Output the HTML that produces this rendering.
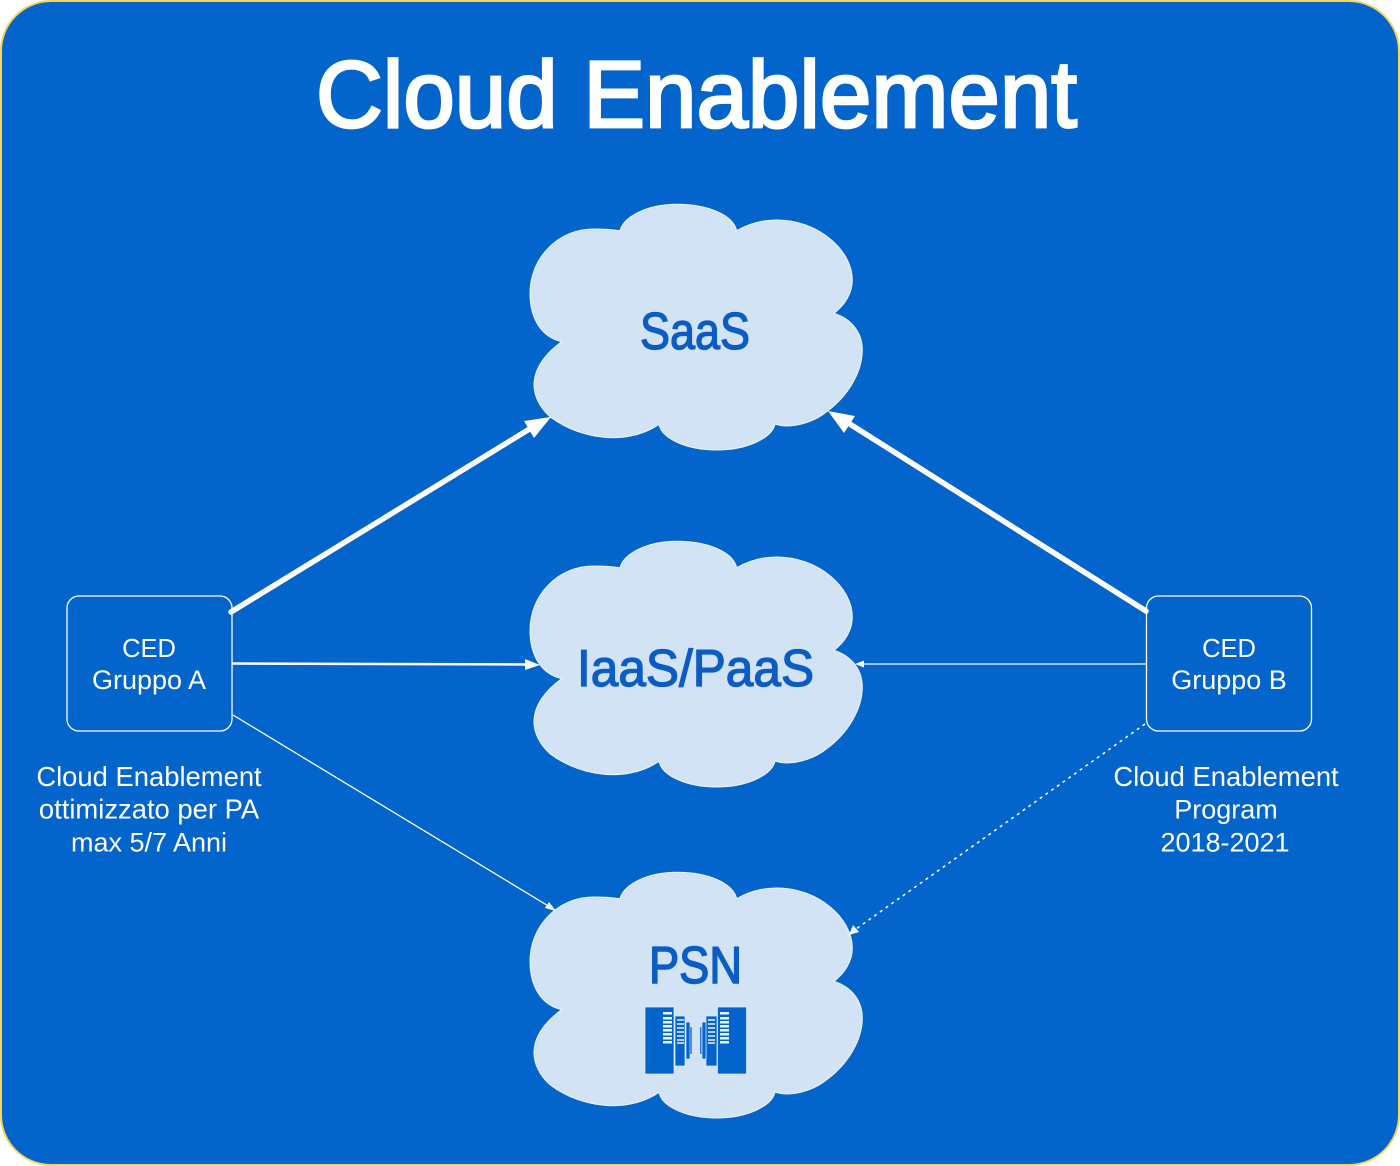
<!DOCTYPE html>
<html><head><meta charset="utf-8"><style>
html,body{margin:0;padding:0;background:#fff}
svg{display:block}
text{font-family:"Liberation Sans",sans-serif}
</style></head><body>
<svg width="1400" height="1166" viewBox="0 0 1400 1166" xmlns="http://www.w3.org/2000/svg">
<defs>
<path id="c" d="M620 230.7C624 216 648 204.300 677 204.300C708 204.300 733 215 736.700 230.700C748 224 762 220 776.700 220C818 220 852.300 250 852.300 280C852.300 293 845 305 834 313.300C852 319 862.300 333 862.300 350C862.300 372 848 396 826.700 411.700C815 421 800 426 786.700 426C782 426 778 425 775 424C772 438 747 450 716.700 450C687 450 662 439 659 424.300C648 432 632 437.700 613.300 437.700C587 437.700 565 428 550 416.700C540 408 534 396 534 385C534 368 546 353 561.700 341.700C541 337 530 318 530 293.300C530 258 558 229 593.300 229C603 229 612 229.500 620 230.700Z" fill="#d2e3f6" stroke="#eef5fc" stroke-width="1"/>
</defs>
<rect x="1" y="1" width="1398" height="1164" rx="50" ry="50" fill="#0364cc" stroke="#f5d65a" stroke-width="2"/>
<text x="316" y="127" font-size="95" fill="#fff" stroke="#fff" stroke-width="2.800" textLength="761" lengthAdjust="spacingAndGlyphs">Cloud Enablement</text>

<use href="#c"/>
<use href="#c" y="337"/>
<use href="#c" y="668"/>

<text x="640" y="349" font-size="52" fill="#0b5cc4" stroke="#0b5cc4" stroke-width="1.300" textLength="110" lengthAdjust="spacingAndGlyphs">SaaS</text>
<text x="577" y="686" font-size="52" fill="#0b5cc4" stroke="#0b5cc4" stroke-width="1.300" textLength="237" lengthAdjust="spacingAndGlyphs">IaaS/PaaS</text>
<text x="649" y="983" font-size="52" fill="#0b5cc4" stroke="#0b5cc4" stroke-width="1.500" textLength="93" lengthAdjust="spacingAndGlyphs">PSN</text>

<!-- servers -->
<g fill="#0364cc" stroke="#e6f0fb" stroke-width=".7">
<rect x="645" y="1007" width="29" height="67"/>
<rect x="675" y="1016" width="10" height="50"/>
<rect x="686" y="1022" width="4" height="37"/>
<rect x="706" y="1016" width="11" height="50"/>
<rect x="717.500" y="1007" width="29" height="67"/>
<rect x="702" y="1022" width="4" height="37"/>
</g>
<rect x="690" y="1027" width="2" height="27" fill="#4c90dd"/>
<rect x="700" y="1027" width="1.500" height="27" fill="#2a78d4"/>
<g fill="#eaf2fb">
<rect x="663" y="1012" width="9" height="2.500"/><rect x="663" y="1017" width="9" height="2.500"/><rect x="663" y="1021" width="9" height="2.500"/><rect x="663" y="1025" width="9" height="2.500"/><rect x="663" y="1029" width="9" height="2.500"/><rect x="663" y="1033" width="9" height="2.500"/><rect x="663" y="1037" width="9" height="2.500"/><rect x="663" y="1041" width="9" height="2.500"/>
<rect x="720" y="1012" width="9" height="2.500"/><rect x="720" y="1017" width="9" height="2.500"/><rect x="720" y="1021" width="9" height="2.500"/><rect x="720" y="1025" width="9" height="2.500"/><rect x="720" y="1029" width="9" height="2.500"/><rect x="720" y="1033" width="9" height="2.500"/><rect x="720" y="1037" width="9" height="2.500"/><rect x="720" y="1041" width="9" height="2.500"/>
</g>
<g fill="#b5d1f0">
<rect x="677" y="1019" width="7" height="2"/><rect x="677" y="1023" width="7" height="2"/><rect x="677" y="1027" width="7" height="2"/><rect x="677" y="1031" width="7" height="2"/><rect x="677" y="1035" width="7" height="2"/><rect x="677" y="1039" width="7" height="2"/><rect x="677" y="1042" width="7" height="2"/>
<rect x="708" y="1019" width="7" height="2"/><rect x="708" y="1023" width="7" height="2"/><rect x="708" y="1027" width="7" height="2"/><rect x="708" y="1031" width="7" height="2"/><rect x="708" y="1035" width="7" height="2"/><rect x="708" y="1039" width="7" height="2"/><rect x="708" y="1042" width="7" height="2"/>
</g>

<!-- boxes -->
<rect x="67" y="596" width="165" height="135" rx="12" fill="#0364cc" stroke="#fff" stroke-width="1.300"/>
<rect x="1146.500" y="596" width="165" height="135" rx="12" fill="#0364cc" stroke="#fff" stroke-width="1.300"/>

<!-- connectors -->
<g stroke="#fff" fill="none">
<line x1="231" y1="612" x2="536" y2="425" stroke-width="5.500" stroke-linecap="round"/>
<line x1="1146" y1="611" x2="845" y2="421" stroke-width="5.500" stroke-linecap="round"/>
<line x1="232" y1="663.500" x2="528" y2="664.500" stroke-width="2.500"/>
<line x1="1146" y1="664" x2="862" y2="664" stroke-width="1.300"/>
<line x1="233" y1="715" x2="550" y2="907" stroke-width="1.300"/>
<line x1="1145" y1="724" x2="856" y2="929" stroke-width="1.500" stroke-dasharray="3 4"/>
</g>
<g fill="#fff">
<polygon points="551,417 534,438 524,421"/>
<polygon points="828,411 855,416 844,433"/>
<polygon points="540,665 525,659 525,670"/>
<polygon points="855,664 864,660.500 864,667.500"/>
<polygon points="556,911 545,908 549,902"/>
<polygon points="849,935 853,925 859,932"/>
</g>

<!-- labels -->
<g fill="#fff" font-size="27" text-anchor="middle">
<text x="149" y="657" font-size="25.500">CED</text>
<text x="149" y="689">Gruppo A</text>
<text x="1229" y="657" font-size="25.500">CED</text>
<text x="1229" y="689">Gruppo B</text>
<text x="149" y="786" font-size="27.400">Cloud Enablement</text>
<text x="149" y="818.500" font-size="27.400">ottimizzato per PA</text>
<text x="149" y="851.500" font-size="27">max 5/7 Anni</text>
<text x="1226" y="786" font-size="27.400">Cloud Enablement</text>
<text x="1226" y="818.500" font-size="27">Program</text>
<text x="1225" y="851.500" font-size="27">2018-2021</text>
</g>
</svg>
</body></html>
